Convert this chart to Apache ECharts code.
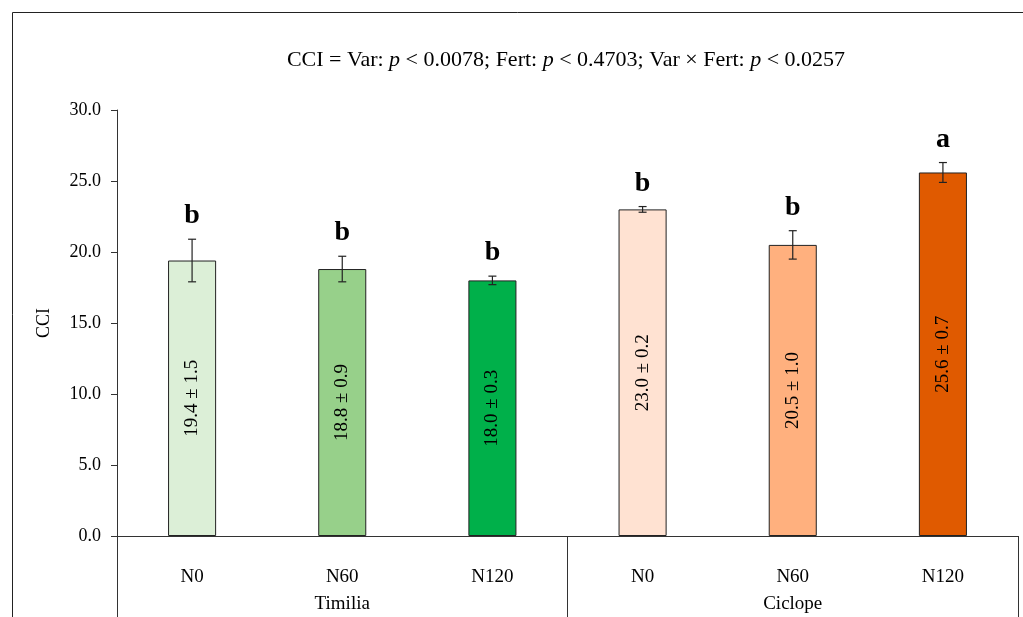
<!DOCTYPE html>
<html><head><meta charset="utf-8">
<script src="https://cdn.jsdelivr.net/npm/echarts@6/dist/echarts.min.js"></script>
<style>html,body{margin:0;padding:0;background:#fff}#c{width:1023px;height:617px}</style>
</head><body><div id="c"></div>
<script>
const categories = ['N0','N60','N120','N0','N60','N120'];
const groups = ['Timilia','Ciclope'];
const values = [19.4, 18.8, 18.0, 23.0, 20.5, 25.6];
const errors = [1.5, 0.9, 0.3, 0.2, 1.0, 0.7];
const letters = ['b','b','b','b','b','a'];
const colors = ['#DCEFD7','#97D08A','#00B04A','#FFE2D2','#FFB07E','#E05A00'];
const yTicks = [0, 5, 10, 15, 20, 25, 30];

const FONT = 'Liberation Serif';
const chart = echarts.init(document.getElementById('c'));
const barData = values.map((v,i)=>({value:v, itemStyle:{color:colors[i]}}));
const errData = values.map((v,i)=>[i, v, errors[i]]);

chart.setOption({
  animation:false,
  textStyle:{fontFamily:FONT, color:'#000'},
  title:{
    text:'{n|CCI = Var: }{i|p}{n| < 0.0078; Fert: }{i|p}{n| < 0.4703; Var × Fert: }{i|p}{n| < 0.0257}',
    left:561, top:44, textAlign:'center',
    textStyle:{fontWeight:'normal', rich:{
      n:{fontFamily:FONT, fontSize:22, fontWeight:'normal', color:'#000'},
      i:{fontFamily:FONT, fontSize:22, fontWeight:'normal', fontStyle:'italic', color:'#000'}
    }}
  },
  grid:{left:117, right:5, top:110, bottom:81, containLabel:false},
  xAxis:[
    {type:'category', data:categories, position:'bottom',
     axisLine:{show:true, lineStyle:{color:'#333', width:1}},
     axisTick:{show:false},
     axisLabel:{margin:32, fontFamily:FONT, fontSize:19, color:'#000'}},
    {type:'category', data:groups, position:'bottom', gridIndex:0,
     axisLine:{show:false},
     axisTick:{show:true, length:81, lineStyle:{color:'#333', width:1}},
     axisLabel:{margin:59, fontFamily:FONT, fontSize:19, color:'#000'}}
  ],
  yAxis:{type:'value', min:yTicks[0], max:yTicks[yTicks.length-1], interval:5,
    name:'CCI', nameLocation:'middle', nameGap:64, nameRotate:90,
    nameTextStyle:{fontFamily:FONT, fontSize:18, color:'#000'},
    axisLine:{show:true, lineStyle:{color:'#333', width:1}},
    axisTick:{show:true, length:6, lineStyle:{color:'#333'}},
    splitLine:{show:false},
    axisLabel:{formatter:v=>v.toFixed(1), fontFamily:FONT, fontSize:18, color:'#000', margin:16}
  },
  series:[
    {type:'bar', xAxisIndex:0, data:barData, barWidth:'32%',
     itemStyle:{borderColor:'#222', borderWidth:1},
     label:{show:true, position:'inside', rotate:90, fontFamily:FONT, fontSize:19, color:'#000',
       formatter:p=>values[p.dataIndex].toFixed(1)+' ± '+errors[p.dataIndex].toFixed(1)}},
    {type:'custom', xAxisIndex:0, data:errData, z:10,
     renderItem:(params, api)=>{
       const i = api.value(0), v = api.value(1), e = api.value(2);
       const top = api.coord([i, v+e]);
       const bot = api.coord([i, v-e]);
       const x = top[0], w = 4;
       const st = {stroke:'#222', lineWidth:1.2};
       return {type:'group', children:[
         {type:'line', shape:{x1:x, y1:top[1], x2:x, y2:bot[1]}, style:st},
         {type:'line', shape:{x1:x-w, y1:top[1], x2:x+w, y2:top[1]}, style:st},
         {type:'line', shape:{x1:x-w, y1:bot[1], x2:x+w, y2:bot[1]}, style:st},
         {type:'text', style:{text:letters[params.dataIndex], x:x, y:top[1]-9,
           align:'center', verticalAlign:'bottom', fontFamily:FONT, fontSize:28, fontWeight:'bold', fill:'#000'}}
       ]};
     }}
  ],
  graphic:[
    {type:'line', shape:{x1:12.5, y1:12.5, x2:1023, y2:12.5}, style:{stroke:'#222', lineWidth:1}},
    {type:'line', shape:{x1:12.5, y1:12.5, x2:12.5, y2:617}, style:{stroke:'#222', lineWidth:1}}
  ]
});
</script></body></html>
